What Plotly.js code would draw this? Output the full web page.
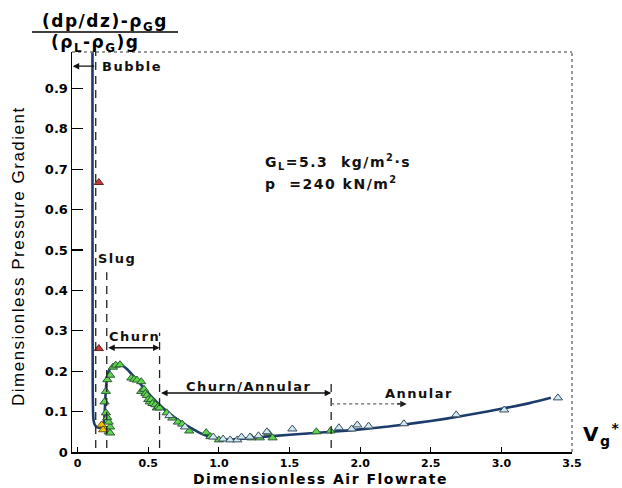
<!DOCTYPE html>
<html>
<head>
<meta charset="utf-8">
<script src="https://cdn.plot.ly/plotly-3.0.1.min.js"></script>
<style>
body{margin:0;padding:0;background:#fff;}
#chart{width:622px;height:488px;}
.annotation-text{letter-spacing:1.5px;}
</style>
</head>
<body>
<div id="chart"></div>
<script>
// Fitted curve
const curveX = [0.105,0.105,0.106,0.107,0.109,0.112,0.12,0.135,0.15,0.17,0.18,0.188,0.193,0.198,0.205,0.215,0.23,0.25,0.27,0.3,0.35,0.4,0.45,0.5,0.55,0.6,0.65,0.7,0.75,0.8,0.85,0.9,0.95,1.0,1.05,1.1,1.2,1.3,1.4,1.6,1.8,2.0,2.2,2.4,2.6,2.8,3.0,3.2,3.35];
const curveY = [0.99,0.6,0.3,0.15,0.1,0.08,0.068,0.062,0.06,0.061,0.066,0.08,0.11,0.145,0.175,0.195,0.207,0.214,0.217,0.217,0.205,0.186,0.166,0.146,0.127,0.11,0.095,0.082,0.07,0.06,0.05,0.042,0.036,0.033,0.031,0.031,0.034,0.037,0.04,0.045,0.05,0.056,0.063,0.072,0.082,0.094,0.107,0.121,0.134];

// Measured points
const greenX = [0.22,0.23,0.23,0.22,0.21,0.20,0.19,0.20,0.21,0.23,0.25,0.27,0.30,0.38,0.40,0.42,0.45,0.45,0.47,0.48,0.49,0.50,0.51,0.52,0.53,0.55,0.56,0.57,0.58,0.63,0.67,0.71,0.74,0.79,0.91,0.94,1.0,1.23,1.29,1.35,1.38,1.69,1.79];
const greenY = [0.05,0.047,0.062,0.074,0.085,0.097,0.124,0.15,0.179,0.19,0.21,0.215,0.216,0.183,0.18,0.178,0.174,0.15,0.155,0.145,0.14,0.13,0.124,0.13,0.12,0.117,0.109,0.112,0.109,0.097,0.084,0.074,0.069,0.052,0.048,0.038,0.03,0.035,0.035,0.047,0.035,0.05,0.052];
const blueX = [0.65,0.76,0.96,1.03,1.08,1.13,1.16,1.22,1.28,1.34,1.52,1.85,1.94,1.98,2.06,2.31,2.68,3.02,3.40];
const blueY = [0.09,0.062,0.037,0.032,0.03,0.03,0.037,0.037,0.04,0.05,0.057,0.06,0.057,0.067,0.064,0.07,0.092,0.104,0.134];
const yellowX = [0.17,0.18];
const yellowY = [0.067,0.055];
const redX = [0.15,0.15];
const redY = [0.667,0.256];

// Regime boundaries
const bndX = [0.128,0.206,0.58,1.795];
const bndTop = [0.99,0.445,0.295,0.175];

const xTicks = [0,0.5,1.0,1.5,2.0,2.5,3.0,3.5];
const xTickText = ['0','0.5','1.0','1.5','2.0','2.5','3.0','3.5'];
const yTicks = [0,0.1,0.2,0.3,0.4,0.5,0.6,0.7,0.8,0.9];
const yTickText = ['0','0.1','0.2','0.3','0.4','0.5','0.6','0.7','0.8','0.9'];

const F = 'DejaVu Sans, Arial, sans-serif';
const tri = (x,y,fill,line)=>({x:x,y:y,type:'scatter',mode:'markers',
  marker:{symbol:'triangle-up',size:8,color:fill,line:{color:line,width:1}},showlegend:false,hoverinfo:'skip'});

const data = [
  {x:curveX,y:curveY,type:'scatter',mode:'lines',line:{color:'#1d3c6b',width:2.6,shape:'spline',smoothing:0.6},showlegend:false,hoverinfo:'skip'},
  tri(greenX,greenY,'#5ed64a','#2d5a3a'),
  tri(blueX,blueY,'#cfeaf5','#3a4a5a'),
  tri(yellowX,yellowY,'#f2c400','#6a5a10'),
  tri(redX,redY,'#c23a3a','#6a2020')
];

const shapes = [];
bndX.forEach((bx,i)=>{
  shapes.push({type:'line',xref:'x',yref:'y',x0:bx,x1:bx,y0:0.01,y1:bndTop[i],line:{color:'#222',width:1.3,dash:'8px,6px'}});
});
// top/right dashed frame
shapes.push({type:'line',xref:'paper',yref:'paper',x0:0,x1:1,y0:1,y1:1,line:{color:'#777',width:1.5,dash:'dot'}});
shapes.push({type:'line',xref:'paper',yref:'paper',x0:1,x1:1,y0:0,y1:1,line:{color:'#777',width:1.5,dash:'dot'}});
// annular dotted arrow shaft
shapes.push({type:'line',xref:'x',yref:'y',x0:bndX[3],x1:2.3,y0:0.119,y1:0.119,line:{color:'#666',width:1.2,dash:'dot'}});
// fraction bar
shapes.push({type:'line',xref:'paper',yref:'paper',x0:-0.08,x1:0.212,y0:1.05,y1:1.05,line:{color:'#000',width:1.3}});

const txt = (x,y,t,size,anchor)=>({x:x,y:y,xref:'x',yref:'y',text:t,showarrow:false,xanchor:anchor||'center',yanchor:'middle',font:{family:F,size:size||13,color:'#111',weight:'bold'}});
const arr = (x,y,ax,side,col)=>({x:x,y:y,ax:ax,ay:y,xref:'x',yref:'y',axref:'x',ayref:'y',text:'',showarrow:true,arrowhead:2,startarrowhead:2,arrowside:side,arrowsize:1,arrowwidth:1.3,arrowcolor:col||'#111'});

const annotations = [
  txt(0.156,0.955,'Bubble',13,'left'),
  arr(-0.035,0.955,bndX[0],'end'),
  txt(0.132,0.48,'Slug',13,'left'),
  txt(0.40,0.285,'Churn',13),
  arr(bndX[2],0.258,bndX[1],'end+start'),
  txt(1.21,0.161,'Churn/Annular',13),
  arr(bndX[3],0.146,bndX[2],'end+start'),
  txt(2.42,0.146,'Annular',13),
  arr(2.33,0.119,2.25,'end','#222'),
  txt(1.31,0.717,'G<sub>L</sub>=5.3  kg/m<sup>2</sup>·s',14,'left'),
  txt(1.31,0.667,'p  =240 kN/m<sup>2</sup>',14,'left'),
  {xref:'paper',yref:'paper',x:0.066,y:1.074,text:'(dp/dz)-ρ<sub>G</sub>g',showarrow:false,xanchor:'center',yanchor:'middle',font:{family:F,size:17,color:'#000',weight:'bold'}},
  {xref:'paper',yref:'paper',x:0.046,y:1.022,text:'(ρ<sub>L</sub>-ρ<sub>G</sub>)g',showarrow:false,xanchor:'center',yanchor:'middle',font:{family:F,size:17,color:'#000',weight:'bold'}},
  {xref:'paper',yref:'paper',x:1.018,y:0.045,text:'V<sub>g</sub><sup>*</sup>',showarrow:false,xanchor:'left',yanchor:'middle',font:{family:F,size:20,color:'#000',weight:'bold'}},
  {xref:'paper',yref:'paper',x:0.496,y:-0.0895,text:'Dimensionless Air Flowrate',showarrow:false,xanchor:'center',yanchor:'bottom',borderpad:0,font:{family:F,size:14,color:'#000',weight:'bold'}},
  {xref:'paper',yref:'paper',x:-0.108,y:0.49,text:'Dimensionless Pressure Gradient',textangle:-90,showarrow:false,xanchor:'center',yanchor:'middle',font:{family:'Liberation Sans Narrow, Liberation Sans, Arial Narrow, sans-serif',size:17,color:'#000'}}
];

const layout = {
  width:622,height:488,
  margin:{l:72,r:50,t:52,b:36},
  paper_bgcolor:'#fff',plot_bgcolor:'#fff',
  showlegend:false,
  xaxis:{range:[-0.04,3.5],tickvals:xTicks,ticktext:xTickText,ticks:'inside',ticklen:5,tickwidth:1.2,tickcolor:'#000',
    showline:true,linecolor:'#000',linewidth:1.5,showgrid:false,zeroline:false,
    tickfont:{family:F,size:11,color:'#000',weight:'bold'}},
  yaxis:{range:[0,0.99],tickvals:yTicks,ticktext:yTickText,ticks:'inside',ticklen:11,tickwidth:1.2,tickcolor:'#000',
    showline:true,linecolor:'#000',linewidth:1.5,showgrid:false,zeroline:false,
    tickfont:{family:F,size:13,color:'#000',weight:'bold'}},
  shapes:shapes,
  annotations:annotations
};

Plotly.newPlot('chart',data,layout,{displayModeBar:false,staticPlot:true});
</script>
</body>
</html>
